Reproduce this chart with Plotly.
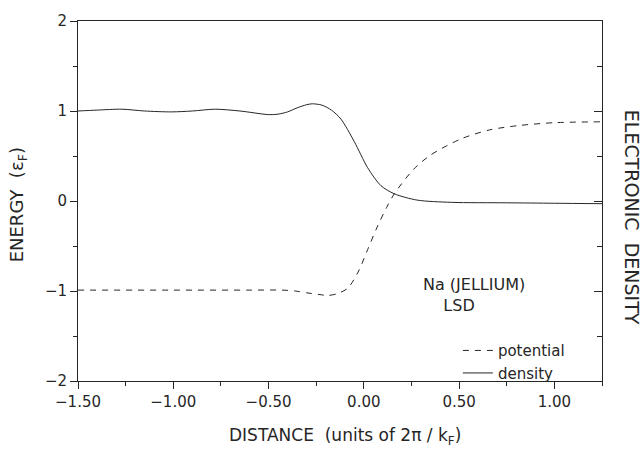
import plotly.graph_objects as go

# Electronic density (solid line)
x_density = [-1.50, -1.40, -1.27, -1.15, -1.01, -0.90, -0.78, -0.65, -0.50, -0.45,
             -0.40, -0.35, -0.30, -0.27, -0.22, -0.17, -0.12, -0.05, 0.02, 0.09,
             0.16, 0.28, 0.46, 0.75, 1.00, 1.25]
y_density = [1.00, 1.01, 1.02, 1.00, 0.99, 1.00, 1.02, 1.00, 0.96, 0.965,
             0.99, 1.035, 1.07, 1.08, 1.065, 1.01, 0.91, 0.66, 0.37, 0.17,
             0.08, 0.01, -0.015, -0.02, -0.025, -0.03]

# Potential (dashed line)
x_potential = [-1.50, -1.00, -0.60, -0.43, -0.36, -0.30, -0.23, -0.19, -0.14, -0.085,
               -0.03, 0.02, 0.07, 0.12, 0.16, 0.26, 0.35, 0.51, 0.66, 0.82,
               1.00, 1.25]
y_potential = [-0.99, -0.99, -0.99, -0.99, -1.00, -1.02, -1.04, -1.05, -1.03, -0.97,
               -0.79, -0.54, -0.29, -0.07, 0.08, 0.35, 0.51, 0.69, 0.79, 0.84,
               0.87, 0.88]

x_ticks = [-1.50, -1.00, -0.50, 0.00, 0.50, 1.00]
x_tick_labels = ["\u22121.50", "\u22121.00", "\u22120.50", "0.00", "0.50", "1.00"]
y_ticks = [-2, -1, 0, 1, 2]
y_tick_labels = ["\u22122", "\u22121", "0", "1", "2"]

FONT = "DejaVu Sans, sans-serif"
INK = "#262626"

fig = go.Figure()
fig.add_trace(go.Scatter(
    x=x_potential, y=y_potential, mode="lines", name="potential",
    line=dict(color=INK, width=1, dash="6px,6px", shape="spline", smoothing=0.8),
))
fig.add_trace(go.Scatter(
    x=x_density, y=y_density, mode="lines", name="density", yaxis="y2",
    line=dict(color=INK, width=1, shape="spline", smoothing=0.8),
))

fig.update_layout(
    width=644, height=450,
    margin=dict(l=78, r=42, t=13, b=69),
    paper_bgcolor="white", plot_bgcolor="white",
    font=dict(family=FONT, size=15, color=INK),
    showlegend=True,
    legend=dict(x=0.725, y=0.13, xanchor="left", yanchor="top",
                bgcolor="rgba(0,0,0,0)", font=dict(size=15), itemwidth=30,
                tracegroupgap=0),
    xaxis=dict(range=[-1.5, 1.25], tickvals=x_ticks, ticktext=x_tick_labels,
               ticks="outside", ticklen=7, tickcolor=INK, showline=True,
               linecolor=INK, linewidth=1, mirror=True, showgrid=False,
               zeroline=False,
               minor=dict(dtick=0.25, tick0=0, ticks="outside", ticklen=4, tickcolor=INK)),
    yaxis=dict(range=[-2, 2], tickvals=y_ticks, ticktext=y_tick_labels,
               ticks="outside", ticklen=7, tickcolor=INK, showline=True,
               linecolor=INK, linewidth=1, showgrid=False, zeroline=False,
               minor=dict(dtick=0.5, tick0=0, ticks="outside", ticklen=4, tickcolor=INK)),
    yaxis2=dict(range=[-2, 2], overlaying="y", side="right", dtick=1, tick0=0,
                ticks="inside", ticklen=8, tickcolor=INK, showticklabels=False,
                showline=True, linecolor=INK, linewidth=1, showgrid=False,
                zeroline=False,
                minor=dict(dtick=0.5, tick0=0, ticks="inside", ticklen=5, tickcolor=INK)),
)

fig.add_annotation(text="DISTANCE  (units of 2\u03c0 / k<sub>F</sub>)",
                   xref="paper", yref="paper", x=0.51, y=-0.155,
                   xanchor="center", yanchor="middle", showarrow=False,
                   font=dict(size=17))
fig.add_annotation(text="ENERGY  (\u03b5<sub>F</sub>)",
                   xref="paper", yref="paper", x=-0.115, y=0.49,
                   xanchor="center", yanchor="middle", textangle=-90,
                   showarrow=False, font=dict(size=18))
fig.add_annotation(text="ELECTRONIC  DENSITY",
                   xref="paper", yref="paper", x=1.056, y=0.455,
                   xanchor="center", yanchor="middle", textangle=90,
                   showarrow=False, font=dict(size=19))
fig.add_annotation(text="Na (JELLIUM)<br>    LSD",
                   xref="paper", yref="paper", x=0.755, y=0.24,
                   xanchor="center", yanchor="middle", align="left",
                   showarrow=False, font=dict(size=16))

fig.write_html("out.html")
